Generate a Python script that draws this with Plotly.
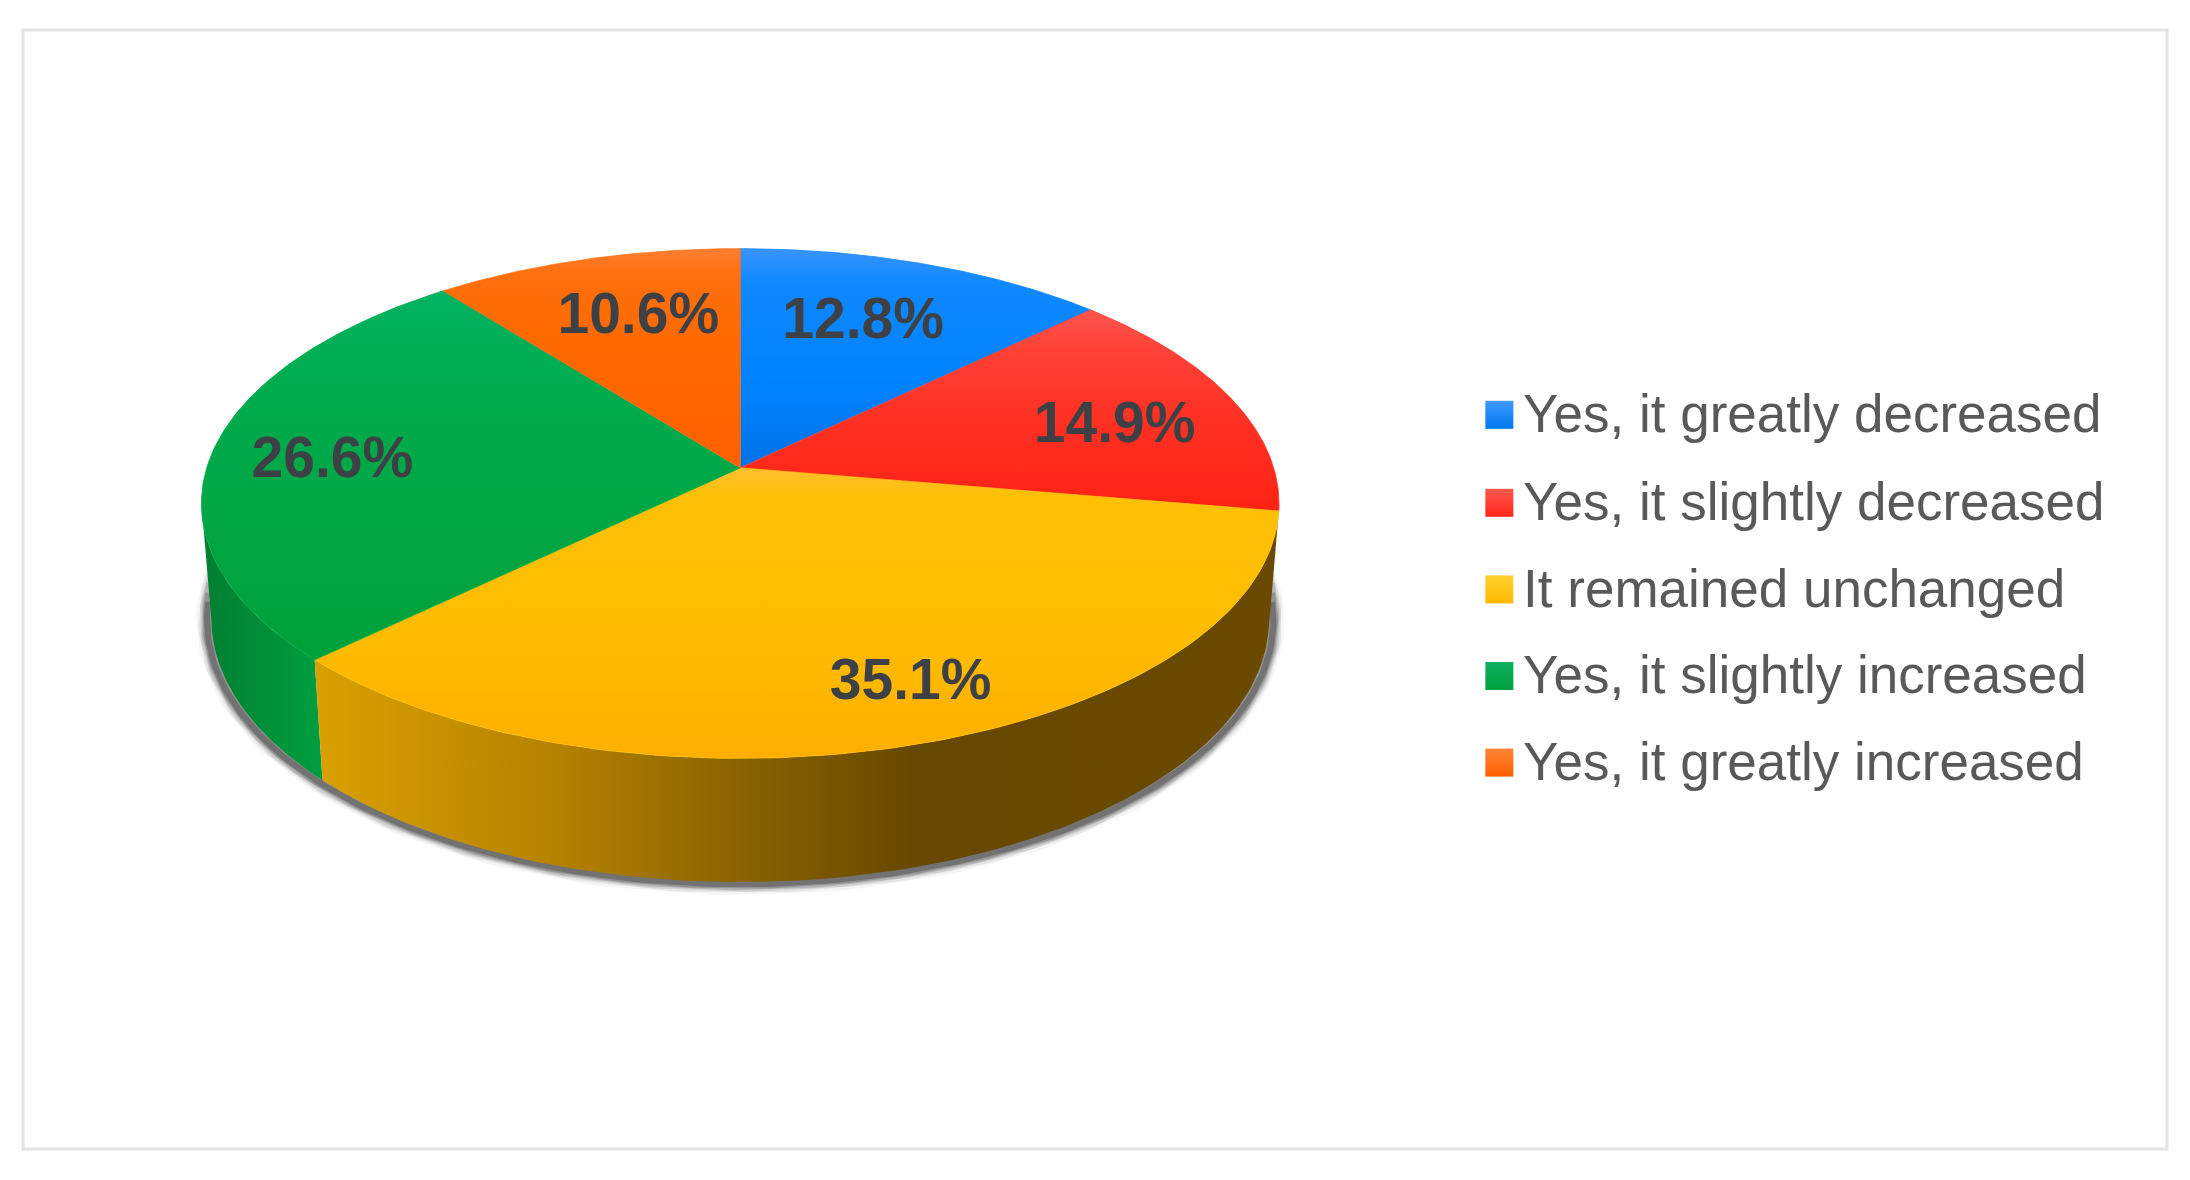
import numpy as np
import plotly.graph_objects as go

# ---- data -------------------------------------------------------------
categories = ["Yes, it greatly decreased", "Yes, it slightly decreased",
              "It remained unchanged", "Yes, it slightly increased",
              "Yes, it greatly increased"]
values = [12.8, 14.9, 35.1, 26.6, 10.6]
labels = ["12.8%", "14.9%", "35.1%", "26.6%", "10.6%"]
legend_colors = ["#0078F0", "#FF2418", "#FFB800", "#00A040", "#FF6000"]
legend_light = ["#3F9BFF", "#FF5A50", "#FFD030", "#10B060", "#FF8438"]
face_scales = [
    [[0, "#3A94FF"], [0.15, "#1088FF"], [0.6, "#0083FF"], [1, "#0072E6"]],
    [[0, "#FF5650"], [0.2, "#FF4036"], [0.5, "#FF3325"], [1, "#FF2214"]],
    [[0, "#FFC030"], [0.1, "#FFC005"], [0.6, "#FFBC00"], [1, "#FFAE00"]],
    [[0, "#00B261"], [0.25, "#00AC4E"], [1, "#00A039"]],
    [[0, "#FF7E34"], [0.1, "#FF7010"], [0.4, "#FF6A00"], [1, "#FF5F00"]],
]
side_scales = {
    2: [[0, "#DAA000"], [0.25, "#B58200"], [0.44, "#8A6400"], [0.62, "#674800"], [1, "#6A4A00"]],
    3: [[0, "#009E40"], [0.5, "#008E38"], [1, "#007E30"]],
}

# ---- layout constants (full-size pixels) -------------------------------
K = 2190 / 1568
W, H = 2190, 1180
PERSP = 0.1397
TOP = dict(cx=530 * K, cy=335 * K, a=382 * K, b=178.9 * K)
BOT = dict(cx=530 * K, cy=416.5 * K, a=375 * K, b=185 * K)
SHADOW = dict(cx=530 * K, cy=418 * K, a=378 * K, b=185 * K)
LABEL_POS = [(618, 231.5), (798, 306.5), (652, 490.5), (238, 331.5), (457, 228.5)]
LEGEND_X = 1073.5 * K
LEGEND_TEXT_X = 1090.5 * K
LEGEND_Y = [297 * K, 360 * K, 422 * K, 484 * K, 546 * K]
LEGEND_TEXT_DY = 3 * K


def project(deg, d):
    t = np.radians(np.asarray(deg, dtype=float))
    u, v = np.sin(t), np.cos(t)
    w = 1 + PERSP * v
    return d["cx"] + d["a"] * u / w, d["cy"] - d["b"] * v / w


def arc(a0, a1, d, n=120):
    return project(np.linspace(a0, a1, n), d)


edges = np.cumsum([0] + values) / sum(values) * 360
TANG_R = 98.0
TANG_L = 262.0

fig = go.Figure()

# soft shadow under the disc
for margin, width, alpha in [(14, 22, 0.05), (12, 18, 0.08), (10, 15, 0.12), (8, 12, 0.18),
                             (6, 9, 0.26), (4, 6, 0.36)]:
    sx, sy = arc(TANG_R - margin, TANG_L + margin, SHADOW, 200)
    fig.add_trace(go.Scatter(x=sx, y=sy, mode="lines", hoverinfo="skip", showlegend=False,
                             line=dict(color=f"rgba(55,55,55,{alpha})", width=width)))

# rim of the visible slices
for i, a0, a1 in [(3, edges[3], TANG_L), (2, edges[2], edges[3])]:
    tx, ty = arc(a0, a1, TOP)
    bx, by = arc(max(a0, TANG_R), a1, BOT)
    x = np.r_[tx, bx[::-1], tx[0]]
    y = np.r_[ty, by[::-1], ty[0]]
    fig.add_trace(go.Scatter(
        x=x, y=y, mode="lines", fill="toself", hoverinfo="skip", showlegend=False,
        line=dict(width=0),
        fillgradient=dict(type="horizontal", colorscale=side_scales[i],
                          start=float(x.min()) if i == 2 else float(x.max()),
                          stop=float(x.max()) if i == 2 else float(x.min())),
    ))

# top faces
for i, name in enumerate(categories):
    tx, ty = arc(edges[i], edges[i + 1], TOP)
    x = np.r_[TOP["cx"], tx, TOP["cx"]]
    y = np.r_[TOP["cy"], ty, TOP["cy"]]
    fig.add_trace(go.Scatter(
        x=x, y=y, mode="lines", fill="toself", name=name, hoverinfo="skip", showlegend=False,
        line=dict(width=0.8, color=face_scales[i][1][1]),
        fillgradient=dict(type="vertical", colorscale=face_scales[i],
                          start=float(y.min()), stop=float(y.max())),
    ))

# slice labels
for lab, (lx, ly) in zip(labels, LABEL_POS):
    fig.add_trace(go.Scatter(x=[lx * K], y=[ly * K], mode="text", text=[f"<b>{lab}</b>"],
                             textposition="middle center", hoverinfo="skip", showlegend=False,
                             textfont=dict(family="Liberation Sans", size=57, color="#3D4045")))

# legend
for name, col, light, ly in zip(categories, legend_colors, legend_light, LEGEND_Y):
    fig.add_trace(go.Scatter(
        x=[LEGEND_X], y=[ly], mode="markers", name=name, hoverinfo="skip", showlegend=False,
        marker=dict(symbol="square", size=28, color=light, line=dict(width=0),
                    gradient=dict(type="vertical", color=col)),
    ))
    fig.add_trace(go.Scatter(
        x=[LEGEND_TEXT_X], y=[ly + LEGEND_TEXT_DY], mode="text", text=[name],
        textposition="middle right", hoverinfo="skip", showlegend=False,
        textfont=dict(family="Liberation Sans", size=53, color="#595959"),
    ))

fig.update_layout(
    width=W, height=H, margin=dict(l=0, r=0, t=0, b=0),
    paper_bgcolor="white", plot_bgcolor="white", showlegend=False,
    xaxis=dict(range=[0, W], visible=False, fixedrange=True),
    yaxis=dict(range=[H, 0], visible=False, fixedrange=True),
    shapes=[dict(type="rect", xref="x", yref="y", x0=23, y0=30, x1=2167, y1=1149,
                 line=dict(color="#E4E4E4", width=3), fillcolor="rgba(0,0,0,0)", layer="below")],
)
fig.write_html("out.html", config={"displayModeBar": False},
               post_script="document.body.style.margin='0';document.body.style.overflow='hidden';")
